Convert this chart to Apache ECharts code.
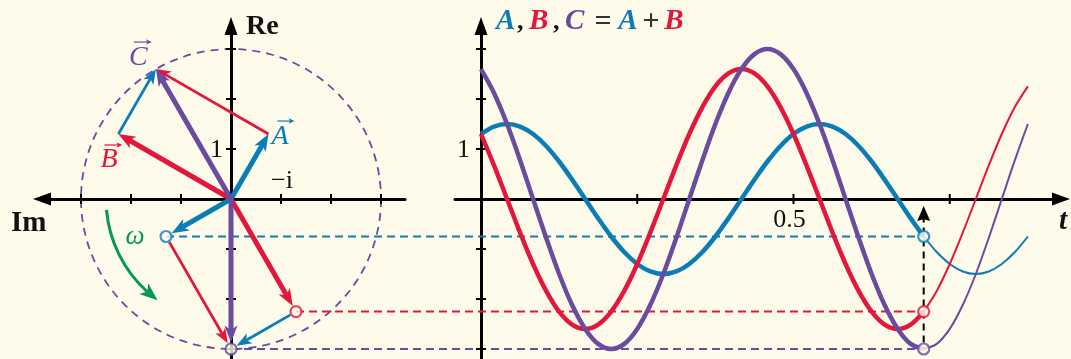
<!DOCTYPE html>
<html>
<head>
<meta charset="utf-8">
<script src="https://cdn.jsdelivr.net/npm/echarts@6/dist/echarts.min.js"></script>
<style>
  html, body { margin: 0; padding: 0; background: #fffbeb; }
  #chart { width: 1071px; height: 359px; }
</style>
</head>
<body>
<div id="chart"></div>
<script>
// Time samples (period 0.5) and the real parts of A, B and C = A + B
const times = [0, 0.0208, 0.0417, 0.0625, 0.0833, 0.1042, 0.125, 0.1458, 0.1667, 0.1875,
  0.2083, 0.2292, 0.25, 0.2708, 0.2917, 0.3125, 0.3333, 0.3542, 0.375, 0.3958,
  0.4167, 0.4375, 0.4583, 0.4792, 0.5, 0.5208, 0.5417, 0.5625, 0.5833, 0.6042,
  0.625, 0.6458, 0.6667, 0.6875, 0.7083, 0.7292, 0.75, 0.7708, 0.7917, 0.8125,
  0.8333, 0.8542, 0.875];
const valuesA = [1.299, 1.449, 1.5, 1.449, 1.299, 1.061, 0.75, 0.388, 0, -0.388,
  -0.75, -1.061, -1.299, -1.449, -1.5, -1.449, -1.299, -1.061, -0.75, -0.388,
  0, 0.388, 0.75, 1.061, 1.299, 1.449, 1.5, 1.449, 1.299, 1.061,
  0.75, 0.388, 0, -0.388, -0.75, -1.061, -1.299, -1.449, -1.5, -1.449,
  -1.299, -1.061, -0.75];
const valuesB = [1.3, 0.673, 0, -0.673, -1.3, -1.838, -2.252, -2.511, -2.6, -2.511,
  -2.252, -1.838, -1.3, -0.673, 0, 0.673, 1.3, 1.838, 2.252, 2.511,
  2.6, 2.511, 2.252, 1.838, 1.3, 0.673, 0, -0.673, -1.3, -1.838,
  -2.252, -2.511, -2.6, -2.511, -2.252, -1.838, -1.3, -0.673, 0, 0.673,
  1.3, 1.838, 2.252];
const valuesC = [2.598, 2.121, 1.5, 0.776, 0, -0.776, -1.5, -2.121, -2.598, -2.898,
  -3, -2.898, -2.598, -2.121, -1.5, -0.776, 0, 0.776, 1.5, 2.121,
  2.598, 2.898, 3, 2.898, 2.598, 2.121, 1.5, 0.776, 0, -0.776,
  -1.5, -2.121, -2.598, -2.898, -3, -2.898, -2.598, -2.121, -1.5, -0.776,
  0, 0.776, 1.5];
const markIndex = 34;            // the instant shown by the lower phasors

// Phasors as [Im, Re] at t = 0 and at the marked instant
const origin = [0, 0];
const startA = [-0.75, 1.299];
const startB = [2.252, 1.3];
const startC = [1.502, 2.599];
const markA = [1.299, -0.75];
const markB = [-1.3, -2.252];
const markC = [0, -3.0];
const circleRadius = [3.0];
const omegaArc = [2.5, 95, 144]; // radius, from angle, to angle (deg from Re towards Im)

const phasorTicks = [-3, -2, -1, 1, 2, 3];
const timeTicks = [0.25, 0.5, 0.75];
const valueTicks = [-3, -2, -1, 1, 2, 3];

const BLUE = '#0a7db6', RED = '#e3173b', PURPLE = '#6b4b9e', GREEN = '#00995a';
const BG = '#fffbeb', INK = '#111';
const SERIF = 'Liberation Serif';
const MARK_R = 6.5;

const chart = echarts.init(document.getElementById('chart'));

// stealth-style arrow from p1 to p2 (pixels)
function arrowShape(p1, p2, color, width, head, trimStart, trimEnd) {
  let dx = p2[0] - p1[0], dy = p2[1] - p1[1];
  const len = Math.hypot(dx, dy) || 1;
  dx /= len; dy /= len;
  const a = [p1[0] + dx * trimStart, p1[1] + dy * trimStart];
  const tip = [p2[0] - dx * trimEnd, p2[1] - dy * trimEnd];
  const L = head[0], W = head[1], k = head[2] || 0.74;
  const back = [tip[0] - dx * L, tip[1] - dy * L];
  const notch = [tip[0] - dx * L * k, tip[1] - dy * L * k];
  const nx = -dy, ny = dx;
  return {
    type: 'group',
    children: [
      { type: 'line', shape: { x1: a[0], y1: a[1], x2: notch[0], y2: notch[1] },
        style: { stroke: color, lineWidth: width } },
      { type: 'polygon',
        shape: { points: [tip, [back[0] + nx * W / 2, back[1] + ny * W / 2], notch,
                          [back[0] - nx * W / 2, back[1] - ny * W / 2]] },
        style: { fill: color } }
    ]
  };
}

function vectorSeries(from, to, color, thick, trimStart, trimEnd, z) {
  return {
    type: 'custom', xAxisIndex: 0, yAxisIndex: 0, z: z, silent: true,
    data: [[from[0], from[1], to[0], to[1]]],
    renderItem: function (params, api) {
      const p1 = api.coord([api.value(0), api.value(1)]);
      const p2 = api.coord([api.value(2), api.value(3)]);
      return thick
        ? arrowShape(p1, p2, color, 5, [17, 13], trimStart, trimEnd)
        : arrowShape(p1, p2, color, 2.8, [15, 11.5], trimStart, trimEnd);
    }
  };
}

function tickSeries(g, xTicks, yTicks) {
  const data = xTicks.map(v => [v, 0, 0]).concat(yTicks.map(v => [0, v, 1]));
  return {
    type: 'custom', xAxisIndex: g, yAxisIndex: g, z: 3, silent: true, data: data,
    renderItem: function (params, api) {
      const p = api.coord([api.value(0), api.value(1)]);
      const onX = api.value(2) === 0;
      return {
        type: 'line',
        shape: onX ? { x1: p[0], y1: p[1] - 5, x2: p[0], y2: p[1] + 5 }
                   : { x1: p[0] - 5, y1: p[1], x2: p[0] + 5, y2: p[1] },
        style: { stroke: '#000', lineWidth: 2 }
      };
    }
  };
}

function labelSeries(g, defs) {
  return {
    type: 'custom', xAxisIndex: g, yAxisIndex: g, z: 9, silent: true,
    data: defs.map(d => d.at),
    renderItem: function (params, api) {
      const d = defs[params.dataIndex];
      const p = api.coord([api.value(0), api.value(1)]);
      const x = p[0] + d.dx, y = p[1] + d.dy;
      const children = [{
        type: 'text', x: x, y: y,
        style: { text: d.text, fill: d.color || INK, fontFamily: SERIF, fontSize: d.size,
                 fontStyle: d.italic ? 'italic' : 'normal', fontWeight: d.bold ? 'bold' : 'normal',
                 align: d.align || 'left', verticalAlign: 'middle' }
      }];
      if (d.vec) {
        const a = d.vec[0], b = d.vec[1], h = d.vec[2];
        children.push({ type: 'line', shape: { x1: x + a, y1: y + h, x2: x + b - 3, y2: y + h },
                        style: { stroke: d.color, lineWidth: 1.2 } });
        children.push({ type: 'polygon',
                        shape: { points: [[x + b, y + h], [x + b - 6, y + h - 2.8],
                                          [x + b - 4.3, y + h], [x + b - 6, y + h + 2.8]] },
                        style: { fill: d.color } });
      }
      return { type: 'group', children: children };
    }
  };
}

function curve(values, color, from, to, width, z) {
  const data = [];
  for (let i = from; i <= to; i++) data.push([times[i], values[i]]);
  return {
    type: 'line', xAxisIndex: 1, yAxisIndex: 1, data: data, smooth: 0.34,
    showSymbol: false, silent: true, z: z,
    lineStyle: { color: color, width: width }
  };
}

function markers(g, points, colors) {
  return {
    type: 'scatter', xAxisIndex: g, yAxisIndex: g, z: 10, silent: true,
    symbol: 'circle', symbolSize: 11,
    data: points.map((p, i) => ({ value: p, itemStyle: { color: BG, borderColor: colors[i], borderWidth: 2.2 } }))
  };
}

const tMark = times[markIndex];
const last = times.length - 1;

const axisLine = (sym) => ({
  onZero: true, symbol: sym, symbolSize: [13, 18],
  lineStyle: { color: '#000', width: 3 }
});
const plain = { axisTick: { show: false }, axisLabel: { show: false }, splitLine: { show: false } };

const series = [
  // dashed orbit of C
  {
    type: 'custom', xAxisIndex: 0, yAxisIndex: 0, z: 1, silent: true,
    data: [[0, 0, circleRadius[0]]],
    renderItem: function (params, api) {
      const c = api.coord([0, 0]);
      const r = Math.abs(api.size([api.value(2), 0])[0]);
      return { type: 'circle', shape: { cx: c[0], cy: c[1], r: r },
               style: { fill: 'none', stroke: PURPLE, lineWidth: 1.8, lineDash: [8, 6] } };
    }
  },
  // rotation sense
  {
    type: 'custom', xAxisIndex: 0, yAxisIndex: 0, z: 4, silent: true,
    data: [omegaArc],
    renderItem: function (params, api) {
      const c = api.coord([0, 0]);
      const R = Math.abs(api.size([api.value(0), 0])[0]);
      const a0 = api.value(1), a1 = api.value(2);
      const scr = phi => { const t = (270 - phi) * Math.PI / 180; return [c[0] + R * Math.cos(t), c[1] + R * Math.sin(t)]; };
      const L = 18, W = 14;
      const dPhi = L / R * 180 / Math.PI;
      const notchPhi = a1 - dPhi * 0.74;
      const head = arrowShape(scr(a1 - dPhi), scr(a1), GREEN, 0.01, [L, W], 0, 0).children[1];
      return {
        type: 'group',
        children: [
          { type: 'arc',
            shape: { cx: c[0], cy: c[1], r: R, startAngle: (270 - notchPhi) * Math.PI / 180,
                     endAngle: (270 - a0) * Math.PI / 180, clockwise: true },
            style: { stroke: GREEN, lineWidth: 3, fill: 'none' } },
          head
        ]
      };
    }
  },
  tickSeries(0, phasorTicks, phasorTicks),
  tickSeries(1, timeTicks, valueTicks),

  // phasors at t = 0
  vectorSeries(startB, startC, BLUE, false, 0, 0, 5),
  vectorSeries(startA, startC, RED, false, 0, 0, 5),
  vectorSeries(origin, startA, BLUE, true, 0, 0, 6),
  vectorSeries(origin, startB, RED, true, 0, 0, 6),
  vectorSeries(origin, startC, PURPLE, true, 0, 0, 7),

  // phasors at the marked instant
  vectorSeries(markA, markC, RED, false, MARK_R, MARK_R, 5),
  vectorSeries(markB, markC, BLUE, false, MARK_R, MARK_R, 5),
  vectorSeries(origin, markA, BLUE, true, 0, MARK_R, 6),
  vectorSeries(origin, markB, RED, true, 0, MARK_R, 6),
  vectorSeries(origin, markC, PURPLE, true, 0, MARK_R, 7),

  // time curves: bold up to the marked instant, thin afterwards
  curve(valuesA, BLUE, 0, markIndex, 4.5, 4),
  curve(valuesB, RED, 0, markIndex, 4.5, 5),
  curve(valuesC, PURPLE, 0, markIndex, 4.5, 6),
  curve(valuesA, BLUE, markIndex, last, 2, 4),
  curve(valuesB, RED, markIndex, last, 2, 5),
  curve(valuesC, PURPLE, markIndex, last, 2, 6),

  // marked instant on the time axis
  {
    type: 'custom', xAxisIndex: 1, yAxisIndex: 1, z: 3, silent: true,
    data: [[tMark, valuesC[markIndex]]],
    renderItem: function (params, api) {
      const p = api.coord([api.value(0), api.value(1)]);
      const axis = api.coord([api.value(0), 0]);
      const tip = axis[1] + 7, L = 15, W = 13;
      return {
        type: 'group',
        children: [
          { type: 'line', shape: { x1: p[0], y1: p[1] - MARK_R, x2: p[0], y2: tip + L * 0.8 },
            style: { stroke: '#000', lineWidth: 2, lineDash: [7, 5] } },
          { type: 'polygon', shape: { points: [[p[0], tip], [p[0] + W / 2, tip + L], [p[0], tip + L * 0.88], [p[0] - W / 2, tip + L]] },
            style: { fill: '#000' } }
        ]
      };
    }
  },

  markers(0, [markA, markB, markC], [BLUE, RED, PURPLE]),
  markers(1, [[tMark, valuesA[markIndex]], [tMark, valuesB[markIndex]], [tMark, valuesC[markIndex]]], [BLUE, RED, PURPLE]),

  labelSeries(0, [
    { at: [0, 3.46], text: 'Re', size: 28, bold: true, dx: 15, dy: 1 },
    { at: [3.78, 0], text: 'Im', size: 29, bold: true, dx: -31, dy: 25 },
    { at: [0, 1], text: '1', size: 26, dx: -8, dy: 1, align: 'right' },
    { at: [-1, 0], text: '\u2212i', size: 26, dx: 1, dy: -18, align: 'center' },
    { at: startA, text: 'A', size: 28, italic: true, color: BLUE, dx: 3, dy: 3, vec: [6, 23, -16] },
    { at: startB, text: 'B', size: 28, italic: true, color: RED, dx: -18, dy: 26, vec: [4, 22, -15] },
    { at: startC, text: 'C', size: 28, italic: true, color: PURPLE, dx: -27, dy: -11, vec: [5, 23, -16] },
    { at: [1.92, -0.78], text: '\u03c9', size: 27, italic: true, color: GREEN, dx: 0, dy: -1, align: 'center' }
  ]),
  labelSeries(1, [
    { at: [0, 1], text: '1', size: 26, dx: -11, dy: 1, align: 'right' },
    { at: [0.5, 0], text: '0.5', size: 26, dx: -4, dy: 21, align: 'center' },
    { at: [0.928, 0], text: 't', size: 29, italic: true, bold: true, dx: 2, dy: 23, align: 'center' }
  ])
];

const letter = (c, w) => ({ color: c, fontFamily: SERIF, fontStyle: 'italic', fontWeight: 'bold', fontSize: 29, lineHeight: 30, width: w });
const option = {
  backgroundColor: BG,
  animation: false,
  title: {
    left: 496, top: 7, padding: 0,
    text: '{a|A}{k|,}{b|B}{k|,}{c|C}{o|=}{a2|A}{p|+}{b|B}',
    textStyle: {
      rich: {
        a: letter(BLUE, 21),
        a2: letter(BLUE, 24),
        b: letter(RED, 24),
        c: letter(PURPLE, 25),
        k: { color: INK, fontFamily: SERIF, fontSize: 26, lineHeight: 30, width: 12 },
        o: { color: '#333', fontFamily: SERIF, fontSize: 30, lineHeight: 30, width: 26, align: 'center' },
        p: { color: '#333', fontFamily: SERIF, fontSize: 30, lineHeight: 30, width: 22, align: 'center' }
      }
    }
  },
  grid: [
    { left: 42, top: 26, width: 363, height: 333, outerBoundsMode: 'none' },
    { left: 455, top: 26, width: 606, height: 333, outerBoundsMode: 'none' }
  ],
  xAxis: [
    Object.assign({ type: 'value', gridIndex: 0, inverse: true, min: -3.48, max: 3.78,
                    axisLine: axisLine(['triangle', 'none']) }, plain),
    Object.assign({ type: 'value', gridIndex: 1, min: -0.0416, max: 0.928,
                    axisLine: axisLine(['none', 'triangle']) }, plain)
  ],
  yAxis: [
    Object.assign({ type: 'value', gridIndex: 0, min: -3.2, max: 3.46,
                    axisLine: axisLine(['none', 'triangle']) }, plain),
    Object.assign({ type: 'value', gridIndex: 1, min: -3.2, max: 3.46,
                    axisLine: axisLine(['none', 'triangle']) }, plain)
  ],
  series: series
};

chart.setOption(option);

// dashed projections from the rotating phasors onto the time plot
const projections = [[markA, valuesA[markIndex]], [markB, valuesB[markIndex]], [markC, valuesC[markIndex]]]
  .map(function (pair) {
    const from = chart.convertToPixel({ gridIndex: 0 }, pair[0]);
    const to = chart.convertToPixel({ gridIndex: 1 }, [tMark, pair[1]]);
    return [from[0], from[1], to[0], to[1]];
  });
const projColors = [BLUE, RED, PURPLE];
option.series.push({
  type: 'custom', coordinateSystem: 'none', z: 2, silent: true,
  data: projections,
  renderItem: function (params, api) {
    return {
      type: 'line',
      shape: { x1: api.value(0), y1: api.value(1), x2: api.value(2), y2: api.value(3) },
      style: { stroke: projColors[params.dataIndex], lineWidth: 2, lineDash: [8, 5] }
    };
  }
});
chart.setOption(option, true);
</script>
</body>
</html>
